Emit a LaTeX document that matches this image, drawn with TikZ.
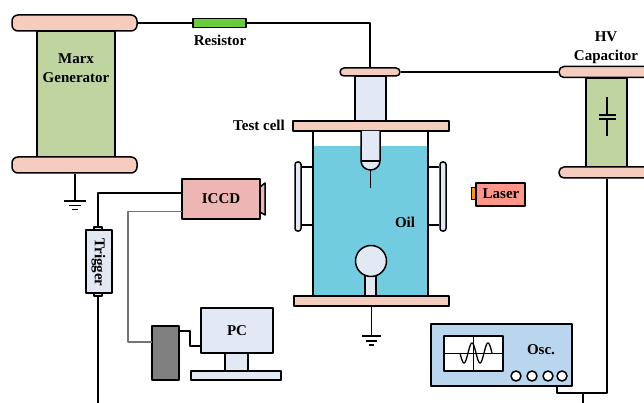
\documentclass[tikz,border=0pt]{standalone}
\usepackage{fontspec}
\setmainfont{Liberation Serif}
\definecolor{plate}{RGB}{246,204,190}
\definecolor{body}{RGB}{192,212,160}
\definecolor{light}{RGB}{227,233,244}
\definecolor{oil}{RGB}{112,204,222}
\definecolor{camera}{RGB}{238,182,178}
\definecolor{laser}{RGB}{255,150,138}
\definecolor{scope}{RGB}{186,214,238}
\definecolor{resgreen}{RGB}{104,204,60}
\tikzset{
  box/.style={draw, line width=1.5pt, inner sep=0pt},
  lab/.style={font=\bfseries\fontsize{15}{18.5}\selectfont, inner sep=0pt, align=center},
  wire/.style={line width=1.3pt},
}
\begin{document}
\begin{tikzpicture}[x=1pt, y=-1pt, line join=round]
\useasboundingbox (0,0) rectangle (644,403);
\clip (0,0) rectangle (644,403);

% Marx generator
\node[box, fill=body, minimum width=78, minimum height=126] (marx) at (76,94) {};
\node[box, fill=plate, rounded corners=6pt, minimum width=125, minimum height=16] (marxtop) at (74.5,23) {};
\node[box, fill=plate, rounded corners=6pt, minimum width=125, minimum height=16] (marxbot) at (74.5,165) {};
\node[lab] (marxlab) at (76,68) {Marx\\Generator};
\coordinate (gnda) at (75,201);
\draw[wire] (marxbot.south -| gnda) -- (gnda);
\draw[wire] (64,201)--(86,201) (69,205.5)--(81,205.5) (72,209.5)--(78,209.5);

% resistor
\node[box, fill=resgreen, minimum width=53, minimum height=9] (res) at (219.5,23) {};
\node[lab] (reslab) at (220,40) {Resistor};

% test cell
\node[box, fill=white, minimum width=115, minimum height=165] (cell) at (370.5,213.5) {};
\node[fill=oil, inner sep=0pt, minimum width=113.5, minimum height=149.4] (oilbath) at (370.5,221) {};
\node[box, fill=light, minimum width=31, minimum height=45] (holder) at (370.5,98.5) {};
\node[box, fill=plate, rounded corners=4pt, minimum width=60, minimum height=8] (feed) at (370,72) {};
\node[box, fill=plate, minimum width=156, minimum height=10] (celltop) at (371,126) {};
\node[box, fill=plate, minimum width=155, minimum height=10] (cellbot) at (371.5,301) {};
\node[lab] (celllab) at (259,125) {Test cell};
\node[lab] (oillab) at (405,222) {Oil};

% electrode and needle
\draw[line width=1.5pt, fill=light] (361,131)--(361,161) arc[start angle=180, end angle=0, x radius=9.5, y radius=9]--(380,131);
\draw[line width=1.5pt] (361,161)--(380,161);
\draw[line width=1.5pt] (370.5,170)--(370.5,188);

% ball
\node[box, fill=light, minimum width=11, minimum height=22] (stem) at (370.5,285) {};
\node[box, circle, fill=light, minimum size=31] (ball) at (371,261) {};

% windows
\node[box, fill=light, rounded corners=2.5pt, minimum width=6, minimum height=69] (winl) at (298,196.5) {};
\node[box, fill=light, rounded corners=2.5pt, minimum width=6, minimum height=69] (winr) at (443,196.5) {};
\draw[wire] (winl.east |- 0,167)--(313,167) (winl.east |- 0,225)--(313,225);
\draw[wire] (winr.west |- 0,167)--(428,167) (winr.west |- 0,225)--(428,225);

\coordinate (gndb) at (371.5,336);
\draw[wire] (cellbot.south -| gndb) -- (gndb);
\draw[wire] (362,336)--(381,336) (366,341)--(377,341) (369,345)--(374,345);

% laser
\node[draw, line width=1pt, fill=orange!80!yellow, inner sep=0pt, minimum width=5, minimum height=12] (tab) at (474,194) {};
\node[box, fill=laser, minimum width=49, minimum height=23] (laser) at (500.5,194.5) {};
\node[lab] (laserlab) at (501,194) {Laser};

% capacitor
\node[box, fill=body, minimum width=41, minimum height=89] (cap) at (606.5,122.5) {};
\node[box, fill=plate, rounded corners=5pt, minimum width=110, minimum height=11] (captop) at (614,72) {};
\node[box, fill=plate, rounded corners=5pt, minimum width=110, minimum height=11] (capbot) at (614,172.5) {};
\node[lab] (caplab) at (606,47.5) {HV\\Capacitor};
\draw[wire] (607,97)--(607,115) (607,119)--(607,136);
\draw[wire] (599,115)--(616,115) (599,119)--(616,119);

% wires on top
\draw[wire] (marxtop.east)--(res.west);
\draw[wire] (res.east)-|(feed.north);
\draw[wire] (feed.east)--(captop.west);

% camera
\node[box, fill=camera, minimum width=78, minimum height=40] (iccd) at (221,199) {};
\node[lab] (iccdlab) at (221,199) {ICCD};
\draw[line width=1.5pt, fill=camera] (260,187)--(265,183)--(265,215)--(260,212)--cycle;

% trigger
\node[box, fill=light, minimum width=8, minimum height=69] (trigtab) at (98,261.5) {};
\node[box, fill=light, minimum width=26, minimum height=63] (trigger) at (99,261.5) {};
\node[lab, rotate=-90] (triglab) at (98.5,262.5) {Trigger};
\coordinate (iccda) at (182,193);
\coordinate (iccdb) at (182,211.5);
\draw[line width=1.5pt] (iccda)-|(trigtab.north);
\draw[wire] (trigtab.south)--(98,403);

% PC
\node[box, fill=black!50, minimum width=27, minimum height=54] (daq) at (165.5,353) {};
\node[box, fill=light, minimum width=23, minimum height=18] (stand) at (236.5,362) {};
\node[box, fill=light, minimum width=72, minimum height=45] (pc) at (237,330.5) {};
\node[box, fill=light, minimum width=90, minimum height=9] (base) at (236,375.5) {};
\node[lab] (pclab) at (237,331) {PC};
\coordinate (daqa) at (152,342);
\coordinate (daqb) at (179,331);
\coordinate (pca) at (201,346);
\draw[line width=1.6pt, black!55] (iccdb)-|(128,342)--(daqa);
\draw[line width=1.5pt] (daqb)-|(190,346)--(pca);

% oscilloscope
\node[box, fill=scope, minimum width=141, minimum height=62] (osc) at (501.5,355) {};
\node[box, fill=white, minimum width=59, minimum height=35] (screen) at (473.5,353.5) {};
\draw[wire] (screen.north)--(screen.south) (screen.west)--(screen.east);
\draw[wire, smooth] plot[domain=460:492, samples=60] (\x,{353+10*sin((\x-460)*22.5)});
\node[lab] (osclab) at (541,350) {Osc.};
\foreach \kx/\kn in {516/a,532/b,548/c,562/d}
  \node[box, circle, fill=white, minimum size=10] (knob\kn) at (\kx,376) {};

% scope leads
\coordinate (junc) at (583,393);
\coordinate (osca) at (557,386);
\draw[wire] (capbot.south -| 607,0)--(607,393)--(junc)-|(osca);
\draw[wire] (junc)--(583,403);
\end{tikzpicture}
\end{document}
